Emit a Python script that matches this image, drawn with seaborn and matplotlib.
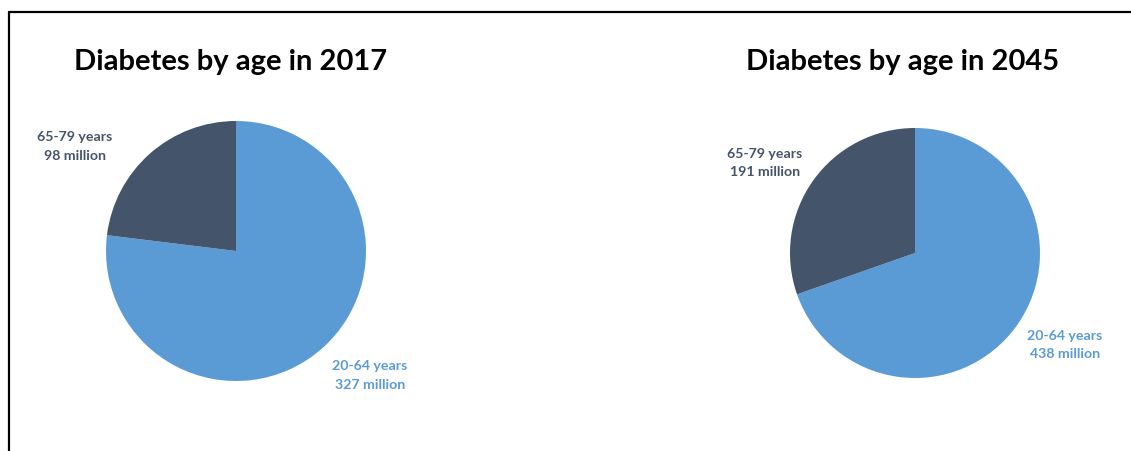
import matplotlib
matplotlib.use("Agg")
import matplotlib.pyplot as plt
from matplotlib.lines import Line2D
import seaborn as sns

# Data
age_groups = ["20-64 years", "65-79 years"]
values_2017 = [327, 98]      # million people
values_2045 = [438, 191]     # million people
titles = ["Diabetes by age in 2017", "Diabetes by age in 2045"]

sns.set_theme(style="white")
plt.rcParams["font.family"] = ["Lato", "DejaVu Sans"]

palette = sns.color_palette(["#5B9BD5", "#44546A"])

W, H = 1131, 452
fig = plt.figure(figsize=(W / 100, H / 100), dpi=100)
fig.patch.set_facecolor("white")


def pie_axes(cx, cy, r):
    """Axes whose unit circle sits at pixel centre (cx, cy) with radius r."""
    return fig.add_axes([(cx - r) / W, 1 - (cy + r) / H, 2 * r / W, 2 * r / H])


panels = [
    dict(values=values_2017, title=titles[0], centre=(236, 252), r=130,
         title_x=231, young_pos=(1.03, -0.95), old_pos=(-1.24, 0.81)),
    dict(values=values_2045, title=titles[1], centre=(915, 254), r=125,
         title_x=903, young_pos=(1.2, -0.73), old_pos=(-1.2, 0.73)),
]

for p in panels:
    ax = pie_axes(*p["centre"], p["r"])
    ax.pie(p["values"], colors=palette, startangle=90, counterclock=False,
           radius=1, wedgeprops=dict(linewidth=0))
    ax.set_xlim(-1, 1)
    ax.set_ylim(-1, 1)
    ax.set_aspect("equal")
    ax.axis("off")
    vals = p["values"]
    ax.text(*p["young_pos"], f"{age_groups[0]}\n{vals[0]} million",
            ha="center", va="center", color=palette[0], fontsize=10.2,
            fontweight="bold", linespacing=1.65)
    ax.text(*p["old_pos"], f"{age_groups[1]}\n{vals[1]} million",
            ha="center", va="center", color=palette[1], fontsize=10.2,
            fontweight="bold", linespacing=1.65)
    fig.text(p["title_x"] / W, 1 - 62 / H, p["title"], ha="center",
             va="center", fontsize=21, fontweight="bold", color="black")

# Frame lines along the top and left edges
fig.add_artist(Line2D([8.5 / W, 1], [1 - 12.5 / H, 1 - 12.5 / H],
                      transform=fig.transFigure, color="black", lw=1.6))
fig.add_artist(Line2D([8.5 / W, 8.5 / W], [0, 1 - 12.5 / H],
                      transform=fig.transFigure, color="black", lw=1.6))

fig.savefig("out.png", dpi=100, facecolor="white")
